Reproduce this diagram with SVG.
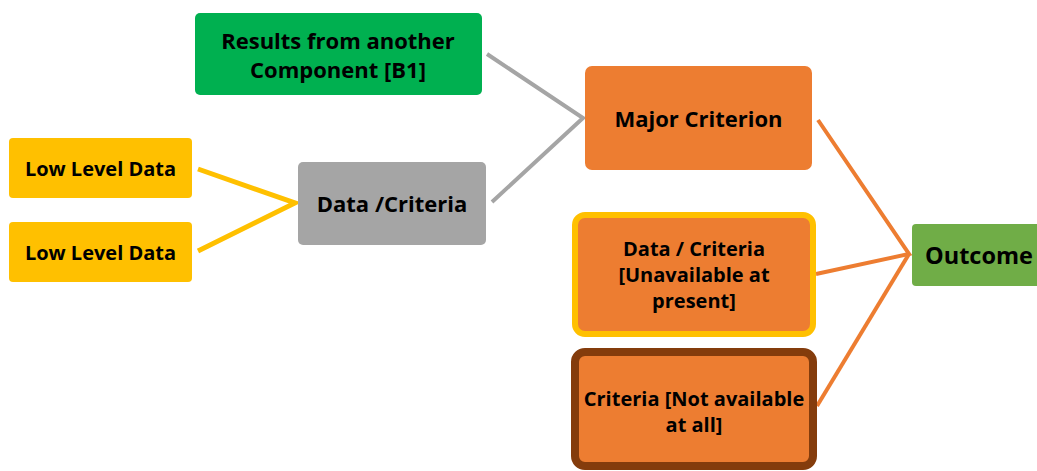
<svg xmlns="http://www.w3.org/2000/svg" width="1037" height="471" viewBox="0 0 1037 471">
  <style>
    .lbl { font-family: "Open Sans", "Liberation Sans", sans-serif; font-weight: bold; fill: #000; text-anchor: middle; dominant-baseline: central; }
    .sm { font-size: 20px; }
    .big { font-size: 22px; }
    .mid { font-size: 20px; }
    .xl { font-size: 23.5px; }
    .link { fill: none; stroke-linecap: butt; stroke-linejoin: miter; }
  </style>
  <rect width="1037" height="471" fill="#ffffff"/>

  <!-- connectors -->
  <g id="connectors">
    <polyline class="link" points="198,169 295,203 198,251" stroke="#FFC000" stroke-width="5"/>
    <polyline class="link" points="487,54 583,118 492,202" stroke="#A5A5A5" stroke-width="4"/>
    <polyline class="link" points="818,120 909,254 816,274" stroke="#ED7D31" stroke-width="4"/>
    <line class="link" x1="909" y1="254" x2="817" y2="406" stroke="#ED7D31" stroke-width="4"/>
  </g>

  <g id="low-level-data-1">
    <rect x="9" y="138" width="183" height="60" rx="4" fill="#FFC000"/>
    <text class="lbl sm" x="100.5" y="168">Low Level Data</text>
  </g>
  <g id="low-level-data-2">
    <rect x="9" y="222" width="183" height="60" rx="4" fill="#FFC000"/>
    <text class="lbl sm" x="100.5" y="252">Low Level Data</text>
  </g>
  <g id="results-b1">
    <rect x="195" y="13" width="287" height="82" rx="5" fill="#00B050"/>
    <text class="lbl big" x="338" y="40">Results from another</text>
    <text class="lbl big" x="338" y="69">Component [B1]</text>
  </g>
  <g id="data-criteria">
    <rect x="298" y="162" width="188" height="83" rx="5" fill="#A5A5A5"/>
    <text class="lbl big" x="392" y="203">Data /Criteria</text>
  </g>
  <g id="major-criterion">
    <rect x="585" y="66" width="227" height="104" rx="7" fill="#ED7D31"/>
    <text class="lbl big" x="698.5" y="118">Major Criterion</text>
  </g>
  <g id="data-criteria-unavailable">
    <rect x="575" y="215" width="238" height="119" rx="10" fill="#ED7D31" stroke="#FFC000" stroke-width="6"/>
    <text class="lbl mid" x="694" y="248">Data / Criteria</text>
    <text class="lbl mid" x="694" y="274">[Unavailable at</text>
    <text class="lbl mid" x="694" y="300">present]</text>
  </g>
  <g id="criteria-not-available">
    <rect x="575" y="352" width="238" height="114" rx="10" fill="#ED7D31" stroke="#843C0C" stroke-width="8"/>
    <text class="lbl mid" x="694" y="398">Criteria [Not available</text>
    <text class="lbl mid" x="694" y="424">at all]</text>
  </g>
  <g id="outcome">
    <rect x="912" y="224" width="135" height="62" rx="4" fill="#70AD47"/>
    <text class="lbl xl" x="979" y="255">Outcome</text>
  </g>
</svg>
